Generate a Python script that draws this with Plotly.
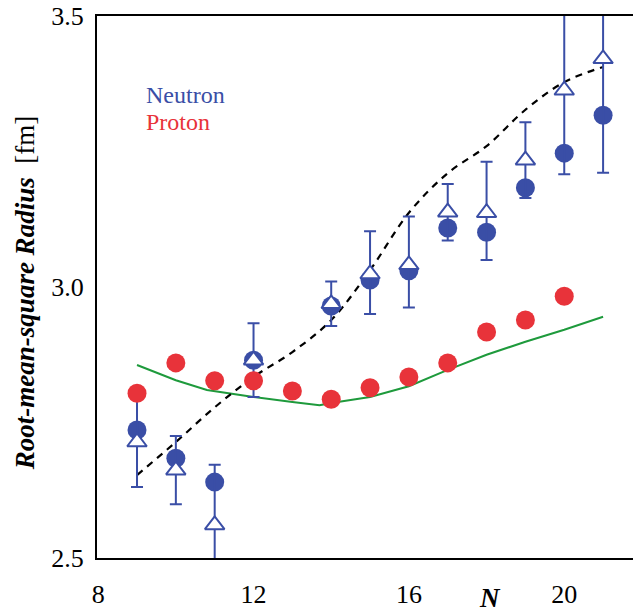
import plotly.graph_objects as go

# ---- data ----
N_exp = [9, 10, 11, 12, 14, 15, 16, 17, 18, 19, 20, 21]
neutron_circle = [2.736, 2.684, 2.640, 2.865, 2.965, 3.013, 3.030, 3.109, 3.101, 3.183, 3.247, 3.317]
neutron_tri = [2.714, 2.662, 2.561, 2.865, 2.969, 3.024, 3.041, 3.138, 3.137, 3.234, 3.363, 3.421]
neutron_err_plus = [0.083, 0.063, 0.111, 0.068, 0.041, 0.079, 0.089, 0.052, 0.094, 0.070, 0.155, 0.210]
neutron_err_minus = [0.083, 0.063, 0.111, 0.068, 0.041, 0.074, 0.079, 0.052, 0.087, 0.070, 0.155, 0.210]

N_proton = [9, 10, 11, 12, 13, 14, 15, 16, 17, 18, 19, 20]
proton = [2.804, 2.860, 2.827, 2.827, 2.808, 2.793, 2.814, 2.834, 2.860, 2.917, 2.939, 2.983]

N_green = [9, 10, 10.8, 11.35, 12, 13, 13.7, 14, 15, 16, 17, 18, 19, 20, 21]
green = [2.856, 2.828, 2.810, 2.804, 2.797, 2.788, 2.782, 2.786, 2.797, 2.817, 2.847, 2.875, 2.899, 2.921, 2.945]

N_dash = [9, 10, 11, 12, 13, 14, 15, 16, 17, 18, 19, 20, 21]
dashed = [2.653, 2.714, 2.778, 2.834, 2.880, 2.939, 3.031, 3.137, 3.210, 3.260, 3.327, 3.378, 3.406]

x_ticks = [8, 12, 16, 20]
y_ticks = [2.5, 3.0, 3.5]

BLUE = "#3a4ea6"
RED = "#e8333a"
GREEN = "#1e9a3c"

fig = go.Figure()
fig.add_trace(go.Scatter(x=N_green, y=green, mode="lines",
                         line=dict(color=GREEN, width=2), showlegend=False))
fig.add_trace(go.Scatter(x=N_dash, y=dashed, mode="lines", line_shape="spline",
                         line=dict(color="black", width=2.2, dash="7px,6px"), showlegend=False))
fig.add_trace(go.Scatter(x=N_exp, y=neutron_circle, mode="markers",
                         marker=dict(symbol="circle", size=19, color=BLUE), showlegend=False))
fig.add_trace(go.Scatter(x=N_exp, y=neutron_tri, mode="markers",
                         marker=dict(symbol="triangle-up", size=17, color="white",
                                     line=dict(color=BLUE, width=2)),
                         error_y=dict(type="data", array=neutron_err_plus,
                                      arrayminus=neutron_err_minus, symmetric=False,
                                      color=BLUE, thickness=2, width=6),
                         showlegend=False))
fig.add_trace(go.Scatter(x=N_proton, y=proton, mode="markers",
                         marker=dict(symbol="circle", size=19, color=RED), showlegend=False))

tickfont = dict(family="Liberation Serif", size=26, color="black")
fig.update_layout(
    width=633, height=614,
    margin=dict(l=97, r=0, t=16, b=56),
    paper_bgcolor="white", plot_bgcolor="white",
    xaxis=dict(range=[7.97, 21.77], tickvals=x_ticks, ticks="outside", ticklen=12,
               tickcolor="rgba(0,0,0,0)", showline=True, linewidth=2, linecolor="black",
               mirror=True, showgrid=False, zeroline=False, tickfont=tickfont),
    yaxis=dict(range=[2.5, 3.5], tickvals=y_ticks, tickformat=".1f", ticks="outside",
               ticklen=6, tickcolor="rgba(0,0,0,0)", showline=True, linewidth=2,
               linecolor="black", showgrid=False, zeroline=False, tickfont=tickfont),
    annotations=[
        dict(text="Neutron", xref="paper", yref="paper", x=0.0877, y=0.854,
             xanchor="left", yanchor="middle", showarrow=False,
             font=dict(family="Liberation Serif", size=24, color=BLUE)),
        dict(text="Proton", xref="paper", yref="paper", x=0.0877, y=0.804,
             xanchor="left", yanchor="middle", showarrow=False,
             font=dict(family="Liberation Serif", size=24, color=RED)),
        dict(text="<b><i>N</i></b>", xref="paper", yref="paper", x=0.733, y=-0.1033,
             xanchor="center", yanchor="bottom", showarrow=False, borderpad=0,
             font=dict(family="Liberation Serif", size=27, color="black")),
        dict(text="<b><i>Root-mean-square Radius</i></b>  [fm]", xref="paper", yref="paper",
             x=-0.134, y=0.489, xanchor="center", yanchor="middle", textangle=-90,
             showarrow=False, font=dict(family="Liberation Serif", size=27, color="black")),
    ],
)

fig.write_html("out.html")
